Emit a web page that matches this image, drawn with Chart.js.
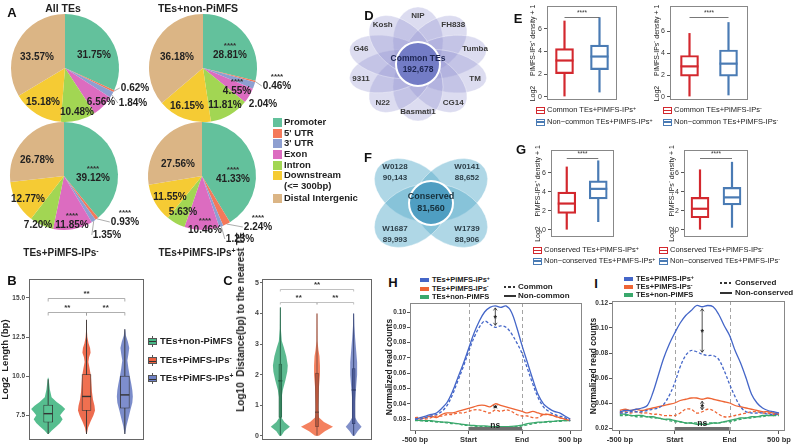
<!DOCTYPE html>
<html><head><meta charset="utf-8">
<script src="https://cdn.jsdelivr.net/npm/chart.js@4.4.1/dist/chart.umd.min.js"></script>
<style>
html,body{margin:0;padding:0;background:#fff;}
body{width:794px;height:445px;overflow:hidden;position:relative;font-family:"Liberation Sans",Arial,sans-serif;}
.t{position:absolute;white-space:nowrap;line-height:1;}
.t sup{font-size:70%;position:relative;top:-0.45em;vertical-align:baseline;}
canvas{position:absolute;}
.sq{position:absolute;}
</style></head><body>
<script>
// ================= DATA =================
const pieCategories = ['Promoter', "5' UTR", "3' UTR", 'Exon', 'Intron', 'Downstream (<= 300bp)', 'Distal Intergenic'];
const pieAllTEs   = [31.75, 0.62, 1.84, 6.56, 10.48, 15.18, 33.57];
const pieNonPiMFS = [28.81, 0.46, 2.04, 4.55, 11.81, 16.15, 36.18];
const pieIPsMinus = [39.12, 0.93, 1.35, 11.85, 7.20, 12.77, 26.78];
const pieIPsPlus  = [41.33, 2.24, 1.23, 10.46, 5.63, 11.55, 27.56];
const sigAllTEs   = ['', '', '', '', '', '', ''];
const sigNonPiMFS = ['****', '****', '', '****', '', '', ''];
const sigIPsMinus = ['****', '****', '', '****', '', '', ''];
const sigIPsPlus  = ['****', '****', '', '****', '', '', ''];

const groups3 = ['TEs+non-PiMFS', 'TEs+PiMFS-IPs-', 'TEs+PiMFS-IPs+'];
// B: log2 length, violin profiles (level, relative density) and box stats [min,q1,med,q3,max]
const lenNonLevels   = [6.3, 6.5, 6.8, 7.0, 7.25, 7.5, 7.7, 7.9, 8.1, 8.35, 8.65, 9.15, 9.9];
const lenNonDens     = [0.03, 0.2, 0.5, 0.7, 0.85, 0.7, 0.85, 1.0, 0.8, 0.5, 0.2, 0.1, 0.02];
const lenMinusLevels = [6.3, 6.7, 7.1, 7.5, 7.8, 8.1, 8.5, 9.0, 9.5, 10.0, 10.5, 10.9, 11.2, 11.5, 11.8, 12.1, 12.5, 13.0, 13.6];
const lenMinusDens   = [0.02, 0.09, 0.24, 0.41, 0.5, 0.47, 0.38, 0.32, 0.29, 0.26, 0.18, 0.11, 0.15, 0.24, 0.21, 0.12, 0.05, 0.02, 0.01];
const lenPlusLevels  = [6.3, 6.8, 7.3, 7.8, 8.3, 8.7, 9.1, 9.5, 10.0, 10.5, 11.0, 11.4, 11.8, 12.2, 12.6, 13.0];
const lenPlusDens    = [0.02, 0.09, 0.21, 0.32, 0.44, 0.47, 0.44, 0.38, 0.29, 0.21, 0.15, 0.21, 0.26, 0.18, 0.06, 0.02];
const lenStatsNon    = [6.3, 7.05, 7.6, 8.15, 9.8];
const lenStatsMinus  = [6.3, 7.8, 8.7, 10.1, 13.6];
const lenStatsPlus   = [6.3, 7.95, 8.8, 10.0, 13.0];
const lenTicks = [7.5, 10, 12.5, 15];
// C: log10 distance to nearest TE
const distNonLevels   = [0, 0.15, 0.3, 0.45, 0.6, 0.9, 1.2, 1.5, 1.8, 2.1, 2.3, 2.6, 2.9, 3.1, 3.5, 4.2];
const distNonDens     = [0.06, 0.24, 0.58, 0.24, 0.06, 0.05, 0.06, 0.15, 0.3, 0.42, 0.45, 0.36, 0.21, 0.09, 0.03, 0.02];
const distMinusLevels = [0, 0.15, 0.3, 0.45, 0.6, 0.8, 1.0, 1.3, 1.6, 2.0, 2.3, 2.6, 2.8, 3.1, 4.0];
const distMinusDens   = [0.12, 0.48, 0.97, 0.42, 0.12, 0.06, 0.06, 0.09, 0.12, 0.18, 0.18, 0.15, 0.09, 0.03, 0.02];
const distPlusLevels  = [0, 0.15, 0.3, 0.45, 0.6, 0.9, 1.2, 1.6, 2.0, 2.4, 2.8, 3.2, 3.6, 4.0];
const distPlusDens    = [0.06, 0.24, 0.48, 0.24, 0.09, 0.06, 0.09, 0.15, 0.21, 0.21, 0.15, 0.09, 0.04, 0.02];
const distStatsNon    = [0, 0.6, 1.8, 2.35, 4.2];
const distStatsMinus  = [0, 0.3, 0.77, 2.05, 4.0];
const distStatsPlus   = [0, 0.4, 1.5, 2.2, 4.0];
const distTicks = [0, 1, 2, 3, 4, 5];
// D / F Venn
const vennDSets = ['NIP', 'FH838', 'Tumba', 'TM', 'CG14', 'Basmati1', 'N22', '9311', 'G46', 'Kosh'];
const vennDCommon = 192678;
const vennFSets = ['W0128', 'W0141', 'W1739', 'W1687'];
const vennFCounts = [90143, 88652, 88906, 89993];
const vennFCommon = 81560;
// E / G box stats [min,q1,med,q3,max]
const densTicks = [0, 2, 4, 6];
const eCommonPlus      = [0.05, 2.05, 3.2, 4.25, 6.7];
const eNonCommonPlus   = [0.4, 2.4, 3.55, 4.55, 7.0];
const eCommonMinus     = [0.05, 1.9, 2.8, 3.8, 5.85];
const eNonCommonMinus  = [0.15, 1.9, 3.05, 4.3, 6.85];
const gConsPlus        = [0, 1.7, 2.75, 3.95, 6.65];
const gNonConsPlus     = [0.8, 3.25, 4.3, 5.15, 7.3];
const gConsMinus       = [0, 1.25, 2.2, 3.4, 6.35];
const gNonConsMinus    = [0.2, 2.6, 3.4, 4.45, 7.15];
// H / I profiles (bins from -500 bp to +500 bp)
const profileTickIdx = [0, 10, 20, 29];
const profileTickLabels = ['-500 bp', 'Start', 'End', '500 bp'];
const hYTicks = [0.03, 0.04, 0.05, 0.06, 0.07, 0.08, 0.09, 0.10];
const iYTicks = [0.02, 0.04, 0.06, 0.08, 0.10, 0.12];
const hPlusNonCommon  = [0.030,0.031,0.032,0.033,0.034,0.037,0.041,0.048,0.057,0.066,0.076,0.086,0.094,0.100,0.103,0.104,0.103,0.104,0.100,0.090,0.078,0.067,0.056,0.046,0.040,0.037,0.035,0.034,0.032,0.030];
const hPlusCommon     = [0.030,0.030,0.031,0.032,0.033,0.035,0.039,0.046,0.055,0.064,0.074,0.083,0.090,0.094,0.092,0.090,0.091,0.090,0.086,0.080,0.073,0.063,0.053,0.044,0.038,0.035,0.033,0.032,0.031,0.029];
const hMinusNonCommon = [0.031,0.030,0.031,0.032,0.031,0.033,0.034,0.034,0.035,0.036,0.037,0.038,0.039,0.039,0.038,0.040,0.039,0.038,0.037,0.036,0.035,0.034,0.035,0.034,0.033,0.033,0.032,0.031,0.030,0.029];
const hMinusCommon    = [0.031,0.031,0.030,0.031,0.032,0.032,0.033,0.033,0.034,0.034,0.035,0.036,0.036,0.035,0.034,0.036,0.035,0.036,0.035,0.033,0.032,0.032,0.031,0.031,0.033,0.033,0.032,0.031,0.030,0.030];
const hNonNonCommon   = [0.0295,0.029,0.029,0.029,0.0285,0.028,0.028,0.0275,0.027,0.0265,0.026,0.0258,0.0255,0.0255,0.0252,0.025,0.025,0.025,0.0252,0.0255,0.026,0.027,0.0275,0.028,0.028,0.0285,0.0285,0.029,0.029,0.029];
const hNonCommon      = [0.029,0.029,0.0285,0.0285,0.028,0.028,0.0275,0.027,0.027,0.026,0.0258,0.0255,0.025,0.025,0.025,0.0248,0.025,0.0248,0.025,0.025,0.0255,0.0262,0.027,0.0275,0.028,0.028,0.0285,0.0285,0.029,0.029];
const iPlusNonCons    = [0.033,0.034,0.034,0.035,0.036,0.038,0.048,0.062,0.076,0.087,0.096,0.104,0.110,0.114,0.118,0.117,0.118,0.117,0.111,0.102,0.094,0.082,0.072,0.060,0.047,0.040,0.036,0.034,0.033,0.032];
const iPlusCons       = [0.032,0.032,0.033,0.033,0.033,0.034,0.035,0.036,0.039,0.046,0.056,0.069,0.078,0.082,0.081,0.079,0.078,0.078,0.075,0.066,0.055,0.045,0.037,0.033,0.032,0.032,0.032,0.031,0.031,0.031];
const iMinusNonCons   = [0.034,0.035,0.034,0.035,0.034,0.035,0.036,0.037,0.038,0.039,0.040,0.042,0.043,0.044,0.044,0.043,0.044,0.043,0.042,0.041,0.040,0.038,0.037,0.036,0.035,0.034,0.033,0.033,0.032,0.031];
const iMinusCons      = [0.032,0.033,0.032,0.033,0.032,0.032,0.031,0.031,0.030,0.030,0.030,0.032,0.035,0.035,0.032,0.033,0.035,0.034,0.031,0.029,0.029,0.030,0.031,0.032,0.033,0.033,0.032,0.032,0.031,0.031];
const iNonNonCons     = [0.031,0.031,0.030,0.030,0.030,0.029,0.029,0.028,0.027,0.027,0.026,0.025,0.024,0.024,0.023,0.023,0.023,0.024,0.024,0.025,0.026,0.027,0.028,0.028,0.029,0.029,0.030,0.030,0.030,0.031];
const iNonCons        = [0.030,0.030,0.030,0.029,0.029,0.029,0.028,0.028,0.027,0.026,0.025,0.025,0.024,0.024,0.024,0.0235,0.024,0.024,0.024,0.025,0.025,0.026,0.027,0.028,0.028,0.029,0.029,0.030,0.030,0.030];

// ================= SETUP =================
const FONT = '"Liberation Sans", Arial, sans-serif';
Chart.defaults.font.family = FONT;
Chart.defaults.animation = false;
Chart.defaults.responsive = false;
Chart.defaults.events = [];
Chart.defaults.plugins.legend.display = false;
Chart.defaults.plugins.tooltip.enabled = false;

function canvasAt(x, y, w, h) {
  const c = document.createElement('canvas');
  c.width = w; c.height = h;
  c.style.left = x + 'px'; c.style.top = y + 'px';
  c.style.width = w + 'px'; c.style.height = h + 'px';
  document.body.appendChild(c);
  return c;
}
function text(x, y, html, o = {}) {
  const d = document.createElement('div');
  d.className = 't';
  d.innerHTML = html;
  d.style.left = x + 'px'; d.style.top = y + 'px';
  d.style.fontSize = (o.size || 9) + 'px';
  d.style.fontWeight = o.weight || 'bold';
  d.style.color = o.color || '#222';
  const ax = o.align === 'left' ? '0' : (o.align === 'right' ? '-100%' : '-50%');
  d.style.transform = 'translate(' + ax + ',-50%)' + (o.rot ? ' rotate(' + o.rot + 'deg)' : '');
  document.body.appendChild(d);
  return d;
}
function rect(x, y, w, h, css) {
  const d = document.createElement('div');
  d.className = 'sq';
  d.style.left = x + 'px'; d.style.top = y + 'px';
  d.style.width = w + 'px'; d.style.height = h + 'px';
  d.style.cssText += ';' + css;
  document.body.appendChild(d);
  return d;
}

// ================= PLUGINS =================
const framePlugin = {id: 'frame', afterDraw(chart, a, o) {
  if (!o || !o.color) return;
  const {left, top, right, bottom} = chart.chartArea, ctx = chart.ctx;
  ctx.save(); ctx.strokeStyle = o.color; ctx.lineWidth = o.width || 1;
  ctx.strokeRect(Math.round(left) + 0.5, Math.round(top) + 0.5, Math.round(right - left) - 1, Math.round(bottom - top) - 1);
  ctx.restore();
}};

const pieLabelPlugin = {id: 'pieLabels', afterDatasetsDraw(chart, a, o) {
  const ctx = chart.ctx, meta = chart.getDatasetMeta(0), vals = chart.data.datasets[0].data;
  ctx.save(); ctx.textAlign = 'center'; ctx.textBaseline = 'middle';
  meta.data.forEach((arc, i) => {
    const off = o.offs[i], lx = arc.x + off[0], ly = arc.y + off[1];
    const label = vals[i].toFixed(2) + '%';
    ctx.font = 'bold 10px ' + FONT;
    const tw = ctx.measureText(label).width;
    if (off[2]) {
      const mid = (arc.startAngle + arc.endAngle) / 2;
      ctx.strokeStyle = '#8a8a8a'; ctx.lineWidth = 0.7;
      ctx.beginPath();
      ctx.moveTo(arc.x + Math.cos(mid) * arc.outerRadius, arc.y + Math.sin(mid) * arc.outerRadius);
      ctx.lineTo(lx - tw / 2 - 1, ly);
      ctx.stroke();
    }
    ctx.fillStyle = '#222'; ctx.fillText(label, lx, ly);
    if (o.sig[i]) { ctx.font = 'bold 8px ' + FONT; ctx.fillStyle = '#333'; ctx.fillText(o.sig[i], lx, ly - 9); }
  });
  ctx.restore();
}};

const violinPlugin = {id: 'violin',
  beforeDatasetsDraw(chart, a, o) {
    const xs = chart.scales.x, ys = chart.scales.y, ctx = chart.ctx;
    const cw = xs.getPixelForValue(1) - xs.getPixelForValue(0);
    ctx.save();
    o.items.forEach((v, i) => {
      const cx = xs.getPixelForValue(i), hw = cw * o.maxHalf;
      ctx.beginPath();
      v.levels.forEach((lv, k) => { const px = cx + v.dens[k] * hw, py = ys.getPixelForValue(lv); if (k) ctx.lineTo(px, py); else ctx.moveTo(px, py); });
      for (let k = v.levels.length - 1; k >= 0; k--) ctx.lineTo(cx - v.dens[k] * hw, ys.getPixelForValue(v.levels[k]));
      ctx.closePath(); ctx.fillStyle = v.fill; ctx.fill();
      ctx.strokeStyle = v.line; ctx.lineWidth = o.whiskerWidth;
      ctx.beginPath(); ctx.moveTo(cx, ys.getPixelForValue(v.stats[0])); ctx.lineTo(cx, ys.getPixelForValue(v.stats[4])); ctx.stroke();
    });
    ctx.restore();
  },
  afterDatasetsDraw(chart, a, o) {
    const ys = chart.scales.y, ctx = chart.ctx, meta = chart.getDatasetMeta(0);
    ctx.save();
    o.items.forEach((v, i) => {
      const bar = meta.data[i], y = ys.getPixelForValue(v.stats[2]);
      ctx.strokeStyle = v.line; ctx.lineWidth = o.medianWidth;
      ctx.beginPath(); ctx.moveTo(bar.x - bar.width / 2 - o.medianExt, y); ctx.lineTo(bar.x + bar.width / 2 + o.medianExt, y); ctx.stroke();
    });
    ctx.restore();
  }
};

const boxWhiskerPlugin = {id: 'boxWhisker',
  beforeDatasetsDraw(chart, a, o) {
    const xs = chart.scales.x, ys = chart.scales.y, ctx = chart.ctx;
    ctx.save(); ctx.lineWidth = o.width;
    o.stats.forEach((s, i) => {
      const cx = xs.getPixelForValue(i);
      ctx.strokeStyle = o.colors[i];
      ctx.beginPath(); ctx.moveTo(cx, ys.getPixelForValue(s[0])); ctx.lineTo(cx, ys.getPixelForValue(s[4])); ctx.stroke();
    });
    ctx.restore();
  },
  afterDatasetsDraw(chart, a, o) {
    const ys = chart.scales.y, ctx = chart.ctx, meta = chart.getDatasetMeta(0);
    ctx.save(); ctx.lineWidth = o.width;
    o.stats.forEach((s, i) => {
      const bar = meta.data[i], y = ys.getPixelForValue(s[2]);
      ctx.strokeStyle = o.colors[i];
      ctx.beginPath(); ctx.moveTo(bar.x - bar.width / 2, y); ctx.lineTo(bar.x + bar.width / 2, y); ctx.stroke();
    });
    ctx.restore();
  }
};

const bracketPlugin = {id: 'brackets', afterDatasetsDraw(chart, a, o) {
  const xs = chart.scales.x, ys = chart.scales.y, ctx = chart.ctx;
  ctx.save(); ctx.strokeStyle = o.color; ctx.fillStyle = o.textColor || '#333'; ctx.lineWidth = o.width || 0.8;
  ctx.font = (o.fontWeight || 'bold') + ' ' + (o.fontSize || 8) + 'px ' + FONT;
  ctx.textAlign = 'center'; ctx.textBaseline = 'bottom';
  o.items.forEach(b => {
    const x1 = xs.getPixelForValue(b.from), x2 = xs.getPixelForValue(b.to);
    const y = Math.round(ys.getPixelForValue(b.y)) + 0.5, dr = o.drop || 0;
    ctx.beginPath(); ctx.moveTo(x1, y + dr); ctx.lineTo(x1, y); ctx.lineTo(x2, y); ctx.lineTo(x2, y + dr); ctx.stroke();
    ctx.fillText(b.label, (x1 + x2) / 2, y - (o.gap || 1));
  });
  ctx.restore();
}};

const vennPlugin = {id: 'venn',
  beforeDatasetsDraw(chart, a, o) {
    const xs = chart.scales.x, ys = chart.scales.y, ctx = chart.ctx;
    const ox = xs.getPixelForValue(0), oy = ys.getPixelForValue(0);
    const ux = xs.getPixelForValue(1) - ox, uy = ys.getPixelForValue(1) - oy;
    o.shapes.forEach(s => {
      ctx.save();
      ctx.translate(ox, oy); ctx.scale(ux, uy); ctx.translate(s.x, s.y); ctx.rotate(s.rot);
      ctx.beginPath(); ctx.ellipse(0, 0, s.rx, s.ry, 0, 0, Math.PI * 2);
      ctx.restore();
      ctx.fillStyle = o.fill; ctx.fill();
      ctx.strokeStyle = o.stroke; ctx.lineWidth = 0.8; ctx.stroke();
    });
  },
  afterDatasetsDraw(chart, a, o) {
    const xs = chart.scales.x, ys = chart.scales.y, ctx = chart.ctx;
    ctx.save(); ctx.textAlign = 'center'; ctx.textBaseline = 'middle';
    o.labels.forEach(l => {
      ctx.font = 'bold ' + l.size + 'px ' + FONT; ctx.fillStyle = l.color;
      ctx.fillText(l.text, xs.getPixelForValue(l.x), ys.getPixelForValue(l.y));
    });
    ctx.restore();
  }
};

const profileAnnoPlugin = {id: 'profileAnno',
  beforeDatasetsDraw(chart, a, o) {
    const xs = chart.scales.x, ctx = chart.ctx, {top, bottom} = chart.chartArea;
    ctx.save(); ctx.strokeStyle = '#9a9a9a'; ctx.lineWidth = 0.9; ctx.setLineDash([4, 3]);
    o.vlines.forEach(v => { const x = Math.round(xs.getPixelForValue(v)) + 0.5; ctx.beginPath(); ctx.moveTo(x, top); ctx.lineTo(x, bottom); ctx.stroke(); });
    ctx.restore();
  },
  afterDatasetsDraw(chart, a, o) {
    const xs = chart.scales.x, ys = chart.scales.y, ctx = chart.ctx, {bottom} = chart.chartArea;
    const ds = chart.data.datasets;
    ctx.save();
    const x1 = xs.getPixelForValue(o.bar[0]), x2 = xs.getPixelForValue(o.bar[1]);
    ctx.fillStyle = '#6e6e6e'; ctx.fillRect(x1, bottom - 4, x2 - x1, 3);
    ctx.strokeStyle = '#222'; ctx.fillStyle = '#222'; ctx.lineWidth = 0.8;
    ctx.textAlign = 'center'; ctx.textBaseline = 'middle';
    o.arrows.forEach(ar => {
      const x = xs.getPixelForValue(ar.idx);
      const ya = ys.getPixelForValue(ds[ar.a].data[ar.idx].y) + 2, yb = ys.getPixelForValue(ds[ar.b].data[ar.idx].y) - 2;
      ctx.beginPath(); ctx.moveTo(x, ya); ctx.lineTo(x, yb); ctx.stroke();
      const h = 2.5;
      ctx.beginPath(); ctx.moveTo(x - 1.8, ya + h); ctx.lineTo(x, ya); ctx.lineTo(x + 1.8, ya + h); ctx.stroke();
      ctx.beginPath(); ctx.moveTo(x - 1.8, yb - h); ctx.lineTo(x, yb); ctx.lineTo(x + 1.8, yb - h); ctx.stroke();
      ctx.font = 'bold 9px ' + FONT;
      ctx.fillText(ar.label, x, (ya + yb) / 2 + 2);
    });
    const n = o.ns;
    ctx.font = 'bold 8.5px ' + FONT;
    ctx.fillText(n.label, xs.getPixelForValue(n.idx), ys.getPixelForValue(ds[n.ds].data[n.idx].y) - 1);
    ctx.restore();
  }
};

// ================= PANEL A: pies =================
const pieColors = ['#63c19c', '#f4795a', '#8e9fd0', '#dc6cc0', '#a2d653', '#f5cb34', '#dbb585'];
const pieSets = [
  {values: pieAllTEs, sig: sigAllTEs},
  {values: pieNonPiMFS, sig: sigNonPiMFS},
  {values: pieIPsMinus, sig: sigIPsMinus},
  {values: pieIPsPlus, sig: sigIPsPlus}
];
const pieLayout = [
  {cx: 65, cy: 68, offs: [[29,-13],[70,20,1],[68,35,1],[36,34],[12,44],[-22,34],[-28,-11]]},
  {cx: 203, cy: 68, offs: [[27,-13],[74,18,1],[60,36],[34,23],[22,37],[-16,38],[-26,-11]]},
  {cx: 64, cy: 176, offs: [[29,2],[61,46,1],[43,59,1],[8,49],[-26,49],[-36,23],[-27,-16]]},
  {cx: 202, cy: 176, offs: [[31,3],[56,51,1],[38,63,1],[3,54],[-19,36],[-32,21],[-24,-12]]}
];
pieSets.forEach((p, k) => {
  const L = pieLayout[k];
  const c = canvasAt(L.cx - 62, L.cy - 62, 160, 140);
  new Chart(c, {
    type: 'pie',
    data: {labels: pieCategories, datasets: [{data: p.values, backgroundColor: pieColors, borderWidth: 0, hoverOffset: 0, offset: 0}]},
    options: {devicePixelRatio: 1, layout: {padding: {left: 8, top: 8, right: 44, bottom: 24}},
      plugins: {pieLabels: {offs: L.offs, sig: p.sig}}},
    plugins: [pieLabelPlugin]
  });
});

// ================= PANEL B: violin length =================
(function () {
  const c = canvasAt(0, 273, 147, 172);
  const items = [
    {levels: lenNonLevels, dens: lenNonDens, stats: lenStatsNon, fill: 'rgba(72,184,134,0.92)', line: '#333'},
    {levels: lenMinusLevels, dens: lenMinusDens, stats: lenStatsMinus, fill: 'rgba(236,96,64,0.92)', line: '#333'},
    {levels: lenPlusLevels, dens: lenPlusDens, stats: lenStatsPlus, fill: 'rgba(112,130,197,0.92)', line: '#333'}
  ];
  new Chart(c, {
    type: 'bar',
    data: {labels: groups3, datasets: [{data: items.map(v => [v.stats[1], v.stats[3]]),
      backgroundColor: ['rgba(90,196,148,1)', 'rgba(240,112,80,1)', 'rgba(126,142,205,1)'],
      borderColor: '#333', borderWidth: 0.8, borderSkipped: false, barThickness: 9}]},
    options: {devicePixelRatio: 1, layout: {padding: {top: 6, right: 3, bottom: 4, left: 0}},
      scales: {
        x: {display: false},
        y: {min: 5.91, max: 16.21, afterBuildTicks: s => { s.ticks = lenTicks.map(v => ({value: v})); },
          ticks: {font: {size: 6.5, weight: 'bold'}, color: '#444', padding: 1, callback: v => Number(v).toFixed(1)},
          grid: {drawOnChartArea: false, tickLength: 3, color: '#666'}, border: {display: false},
          title: {display: true, text: 'Log2  Length (bp)', font: {size: 9.5, weight: 'bold'}, color: '#222', padding: {top: 0, bottom: 0}},
          afterFit: s => { s.width = 29; }}
      },
      plugins: {frame: {color: '#666'}, violin: {items, maxHalf: 0.444, whiskerWidth: 0.9, medianWidth: 1.4, medianExt: 0},
        brackets: {items: [{from: 0, to: 2, y: 15.0, label: '**'}, {from: 0, to: 1, y: 14.1, label: '**'}, {from: 1, to: 2, y: 14.1, label: '**'}],
          color: '#9a9a9a', drop: 3, gap: 1, fontSize: 8}}},
    plugins: [framePlugin, violinPlugin, bracketPlugin]
  });
})();

// ================= PANEL C: violin distance =================
(function () {
  const c = canvasAt(236, 273, 138, 172);
  const items = [
    {levels: distNonLevels, dens: distNonDens, stats: distStatsNon, fill: 'rgba(63,174,124,0.85)', line: '#245f45'},
    {levels: distMinusLevels, dens: distMinusDens, stats: distStatsMinus, fill: 'rgba(242,107,67,0.85)', line: '#7a4a3e'},
    {levels: distPlusLevels, dens: distPlusDens, stats: distStatsPlus, fill: 'rgba(107,125,192,0.85)', line: '#33406e'}
  ];
  new Chart(c, {
    type: 'bar',
    data: {labels: groups3, datasets: [{data: items.map(v => [v.stats[1], v.stats[3]]),
      backgroundColor: ['rgba(60,140,100,0.7)', 'rgba(200,90,60,0.7)', 'rgba(80,95,160,0.7)'],
      borderColor: ['#245f45', '#6a3e33', '#33406e'], borderWidth: 0.6, borderSkipped: false, barThickness: 3}]},
    options: {devicePixelRatio: 1, layout: {padding: {top: 6, right: 2, bottom: 4, left: 0}},
      scales: {
        x: {display: false},
        y: {min: -0.13, max: 5.13, afterBuildTicks: s => { s.ticks = distTicks.map(v => ({value: v})); },
          ticks: {font: {size: 7, weight: 'bold'}, color: '#444', padding: 1},
          grid: {drawOnChartArea: false, tickLength: 2, color: '#666'}, border: {display: false},
          afterFit: s => { s.width = 26; }}
      },
      plugins: {frame: {color: '#666'}, violin: {items, maxHalf: 0.45, whiskerWidth: 0.9, medianWidth: 1.6, medianExt: 0.5},
        brackets: {items: [{from: 0, to: 2, y: 4.8, label: '**'}, {from: 0, to: 1, y: 4.38, label: '**'}, {from: 1, to: 2, y: 4.38, label: '**'}],
          color: '#b0b0b0', drop: 2, gap: 1, fontSize: 8}}},
    plugins: [framePlugin, violinPlugin, bracketPlugin]
  });
})();

// ================= PANEL D: flower Venn =================
(function () {
  const c = canvasAt(335, 0, 166, 132);
  const n = vennDSets.length;
  const shapes = vennDSets.map((s, i) => { const th = i * 2 * Math.PI / n; return {x: 23 * Math.sin(th), y: -23 * Math.cos(th), rot: th - Math.PI / 2, rx: 34, ry: 20}; });
  const labels = vennDSets.map((s, i) => { const th = i * 2 * Math.PI / n; return {text: s, x: 48 * Math.sin(th), y: -48 * Math.cos(th), size: 8, color: '#3a3a3a'}; });
  labels.push({text: 'Common TEs', x: 0, y: -5, size: 8.5, color: '#1d2552'});
  labels.push({text: vennDCommon.toLocaleString('en-US'), x: 0, y: 6, size: 8.5, color: '#1d2552'});
  new Chart(c, {
    type: 'bubble',
    data: {datasets: [{data: [{x: 0, y: 0, r: 22}], backgroundColor: '#737cc6', borderColor: '#ffffff', borderWidth: 2}]},
    options: {devicePixelRatio: 1, layout: {padding: 0, autoPadding: false},
      scales: {x: {display: false, min: -66.4, max: 66.4}, y: {display: false, reverse: true, min: -64, max: 68}},
      plugins: {venn: {shapes, labels, fill: 'rgba(140,140,205,0.3)', stroke: 'rgba(255,255,255,0.45)'}}},
    plugins: [vennPlugin]
  });
})();

// ================= PANEL F: 4-set Venn =================
(function () {
  const c = canvasAt(358, 150, 146, 100);
  const quad = [[-1, -1], [1, -1], [1, 1], [-1, 1]];
  const shapes = quad.map(([sx, sy]) => ({x: sx * 20, y: sy * 13, rot: Math.atan2(sy * 13, sx * 20), rx: 40, ry: 27}));
  const labels = [];
  vennFSets.forEach((s, i) => {
    const [sx, sy] = quad[i];
    labels.push({text: s, x: sx * 36, y: sy * 31 - 5, size: 8, color: '#2c3e48'});
    labels.push({text: vennFCounts[i].toLocaleString('en-US'), x: sx * 36, y: sy * 31 + 6, size: 8, color: '#2c3e48'});
  });
  labels.push({text: 'Conserved', x: 0, y: -6, size: 9, color: '#17303c'});
  labels.push({text: vennFCommon.toLocaleString('en-US'), x: 0, y: 6, size: 9, color: '#17303c'});
  new Chart(c, {
    type: 'bubble',
    data: {datasets: [{data: [{x: 0, y: 0, r: 22}], backgroundColor: '#4f9ec2', borderColor: '#ffffff', borderWidth: 2}]},
    options: {devicePixelRatio: 1, layout: {padding: 0, autoPadding: false},
      scales: {x: {display: false, min: -73, max: 73}, y: {display: false, reverse: true, min: -53, max: 47}},
      plugins: {venn: {shapes, labels, fill: 'rgba(95,175,205,0.5)', stroke: 'rgba(255,255,255,0.5)'}}},
    plugins: [vennPlugin]
  });
})();

// ================= PANELS E / G: boxplots =================
const RED = '#d3282e', BLUE = '#4a7bb4';
function boxChart(pos, pad, axisW, stats, cats, yMin, yMax, title, brY) {
  const c = canvasAt(pos[0], pos[1], pos[2], pos[3]);
  new Chart(c, {
    type: 'bar',
    data: {labels: cats, datasets: [{data: stats.map(s => [s[1], s[3]]), backgroundColor: '#ffffff',
      borderColor: [RED, BLUE], borderWidth: 2.2, borderSkipped: false, barThickness: 18}]},
    options: {devicePixelRatio: 1, layout: {padding: pad},
      scales: {
        x: {display: false},
        y: {min: yMin, max: yMax, afterBuildTicks: s => { s.ticks = densTicks.map(v => ({value: v})); },
          ticks: {font: {size: 7}, color: '#333', padding: 2},
          grid: {drawOnChartArea: false, tickLength: 3, color: '#555'}, border: {display: false},
          title: {display: true, text: title, font: {size: 7}, color: '#222', padding: {top: 0, bottom: 0}},
          afterFit: s => { s.width = axisW; }}
      },
      plugins: {frame: {color: '#888'}, boxWhisker: {stats, colors: [RED, BLUE], width: 2.2},
        brackets: {items: [{from: 0, to: 1, y: brY, label: '****'}], color: '#555', drop: 0, gap: 0, fontSize: 6.5, fontWeight: 'normal'}}},
    plugins: [framePlugin, boxWhiskerPlugin, bracketPlugin]
  });
}
boxChart([529, 0, 91, 106], {top: 3, right: 3, bottom: 3, left: 0}, 18, [eCommonPlus, eNonCommonPlus],
  ['Common TEs+PiMFS-IPs+', 'Non-common TEs+PiMFS-IPs+'], -0.25, 7.97, 'Log2     PiMFS-IPs\u207A density + 1', 7.0);
boxChart([653, 0, 98, 106], {top: 3, right: 3, bottom: 3, left: 0}, 17, [eCommonMinus, eNonCommonMinus],
  ['Common TEs+PiMFS-IPs-', 'Non-common TEs+PiMFS-IPs-'], -0.26, 8.31, 'Log2     PiMFS-IPs\u207B density + 1', 7.28);
boxChart([534, 144, 83, 99], {top: 3, right: 3, bottom: 0, left: 0}, 17, [gConsPlus, gNonConsPlus],
  ['Conserved TEs+PiMFS-IPs+', 'Non-conserved TEs+PiMFS-IPs+'], -0.76, 8.38, 'Log2     PiMFS-IPs\u207A density + 1', 7.6);
boxChart([668, 144, 83, 99], {top: 3, right: 3, bottom: 0, left: 0}, 16, [gConsMinus, gNonConsMinus],
  ['Conserved TEs+PiMFS-IPs-', 'Non-conserved TEs+PiMFS-IPs-'], -0.76, 8.38, 'Log2     PiMFS-IPs\u207B density + 1', 7.6);

// ================= PANELS H / I: profiles =================
const PBLUE = '#4466c8', PORANGE = '#ee6535', PGREEN = '#3aa86c';
function line(arr, color, dashed) {
  return {data: arr.map((v, i) => ({x: i, y: v})), borderColor: color, borderWidth: 1.3, borderDash: dashed ? [3, 2] : [],
    pointRadius: 0, tension: 0.35, fill: false};
}
function profileChart(pos, axisW, datasets, yMin, yMax, yTicks, xMin, xMax, anno) {
  const c = canvasAt(pos[0], pos[1], pos[2], pos[3]);
  new Chart(c, {
    type: 'line',
    data: {datasets},
    options: {devicePixelRatio: 1, layout: {padding: {top: 5, right: 4, bottom: 0, left: 0}},
      scales: {
        x: {type: 'linear', min: xMin, max: xMax, afterBuildTicks: s => { s.ticks = profileTickIdx.map(v => ({value: v})); },
          ticks: {autoSkip: false, maxRotation: 0, font: {size: 7.5, weight: 'bold'}, color: '#333', padding: 1,
            callback: v => profileTickLabels[profileTickIdx.indexOf(v)]},
          grid: {drawOnChartArea: false, tickLength: 3, color: '#555'}, border: {display: false},
          afterFit: s => { s.height = 14; }},
        y: {min: yMin, max: yMax, afterBuildTicks: s => { s.ticks = yTicks.map(v => ({value: v})); },
          ticks: {font: {size: 6.5, weight: 'bold'}, color: '#333', padding: 1, callback: v => Number(v).toFixed(2)},
          grid: {drawOnChartArea: false, tickLength: 3, color: '#555'}, border: {display: false},
          title: {display: true, text: 'Normalized read counts', font: {size: 8.5, weight: 'bold'}, color: '#222', padding: {top: 0, bottom: 0}},
          afterFit: s => { s.width = axisW; }}
      },
      plugins: {frame: {color: '#888'}, profileAnno: anno}},
    plugins: [framePlugin, profileAnnoPlugin]
  });
}
const annoCfg = {vlines: [10, 20], bar: [10, 20], arrows: [{a: 0, b: 1, idx: 15, label: '*'}, {a: 2, b: 3, idx: 15, label: '*'}], ns: {ds: 4, idx: 15, label: 'ns'}};
profileChart([385, 298, 201, 147], 25, [
  line(hPlusNonCommon, PBLUE, false), line(hPlusCommon, PBLUE, true),
  line(hMinusNonCommon, PORANGE, false), line(hMinusCommon, PORANGE, true),
  line(hNonNonCommon, PGREEN, false), line(hNonCommon, PGREEN, true)
], 0.0222, 0.1059, hYTicks, -0.94, 31.2, annoCfg);
profileChart([589, 296, 203, 149], 23, [
  line(iPlusNonCons, PBLUE, false), line(iPlusCons, PBLUE, true),
  line(iMinusNonCons, PORANGE, false), line(iMinusCons, PORANGE, true),
  line(iNonNonCons, PGREEN, false), line(iNonCons, PGREEN, true)
], 0.0176, 0.1216, iYTicks, -1.43, 30.07, annoCfg);

// ================= TEXT / LEGENDS =================
[['A', 12, 12], ['B', 12, 280], ['C', 228, 280], ['D', 369, 15], ['E', 518, 18], ['F', 368, 157], ['G', 521, 149], ['H', 393, 282], ['I', 596, 283]]
  .forEach(([l, x, y]) => text(x, y, l, {size: 13, color: '#111'}));

text(63, 8, 'All TEs', {size: 10.5});
text(198, 8, 'TEs+non-PiMFS', {size: 10.5});
text(61, 253, 'TEs+PiMFS-IPs<sup>-</sup>', {size: 10});
text(197, 253, 'TEs+PiMFS-IPs<sup>+</sup>', {size: 10});

// A legend
const pieLegendLines = [['Promoter'], ["5' UTR"], ["3' UTR"], ['Exon'], ['Intron'], ['Downstream', '(<= 300bp)'], ['Distal Intergenic']];
const pieLegendY = [122, 133, 143, 154, 165, 175, 198];
pieLegendLines.forEach((lines, i) => {
  rect(273, pieLegendY[i] - 4.5, 9, 9, 'background:' + pieColors[i]);
  lines.forEach((ln, j) => text(284, pieLegendY[i] + j * 10.5, ln.replace(/</g, '&lt;'), {size: 9.5, align: 'left'}));
});

// B legend
const bLegColors = ['#48b886', '#ec6040', '#7082c5'];
const bLegText = ['TEs+non-PiMFS', 'TEs+PiMFS-IPs<sup>-</sup>', 'TEs+PiMFS-IPs<sup>+</sup>'];
[341, 360, 378].forEach((y, i) => {
  rect(152, y - 5.5, 1, 11, 'background:#555');
  rect(148, y - 3.5, 9, 7, 'box-sizing:border-box;border:1px solid #555;background:linear-gradient(to bottom,' + bLegColors[i] + ' 0,' + bLegColors[i] + ' 2.5px,#333 2.5px,#333 3.5px,' + bLegColors[i] + ' 3.5px)');
  text(160, y, bLegText[i], {size: 9.5, align: 'left'});
});

// C axis title (extends above plot like reference)
text(241, 322, 'Log10&nbsp; Distance(bp) to the nearest TE', {size: 10, rot: -90});

// E / G legends
function boxIcon(x, y, col) {
  rect(x, y - 3.5, 9, 7, 'box-sizing:border-box;border:1.5px solid ' + col + ';background:linear-gradient(to bottom,#fff 0,#fff 1.5px,' + col + ' 1.5px,' + col + ' 2.7px,#fff 2.7px)');
}
const legE = [
  [536, 110, RED, 'Common TEs+PiMFS-IPs<sup>+</sup>'], [536, 122, BLUE, 'Non\u2212common TEs+PiMFS-IPs<sup>+</sup>'],
  [663, 110, RED, 'Common TEs+PiMFS-IPs<sup>-</sup>'], [663, 122, BLUE, 'Non\u2212common TEs+PiMFS-IPs<sup>-</sup>'],
  [533, 250, RED, 'Conserved TEs+PiMFS-IPs<sup>+</sup>'], [533, 261, BLUE, 'Non\u2212conserved TEs+PiMFS-IPs<sup>+</sup>'],
  [659, 250, RED, 'Conserved TEs+PiMFS-IPs<sup>-</sup>'], [659, 261, BLUE, 'Non\u2212conserved TEs+PiMFS-IPs<sup>-</sup>']
];
legE.forEach(([x, y, col, t]) => { boxIcon(x, y, col); text(x + 11, y, t, {size: 7.5, weight: 'normal', align: 'left', color: '#222'}); });

// H / I legends
const profLeg = [[PBLUE, 'TEs+PiMFS-IPs<sup>+</sup>'], [PORANGE, 'TEs+PiMFS-IPs<sup>-</sup>'], [PGREEN, 'TEs+non-PiMFS']];
profLeg.forEach(([col, t], i) => {
  rect(420, 278 + i * 8.5, 9, 4, 'background:' + col);
  text(432, 280 + i * 8.5, t, {size: 7.5, align: 'left'});
  rect(624, 277 + i * 8, 9, 4, 'background:' + col);
  text(636, 279 + i * 8, t, {size: 7.5, align: 'left'});
});
function dashSample(x, y, dashed) {
  rect(x, y - 0.75, 12, 1.5, dashed ? 'background:repeating-linear-gradient(to right,#333 0,#333 2.5px,transparent 2.5px,transparent 4.5px)' : 'background:#333');
}
dashSample(504, 287, true); text(518, 287, 'Common', {size: 8, align: 'left'});
dashSample(504, 296, false); text(518, 296, 'Non-common', {size: 8, align: 'left'});
dashSample(720, 283, true); text(735, 283, 'Conserved', {size: 8, align: 'left'});
dashSample(720, 293, false); text(735, 293, 'Non-conserved', {size: 8, align: 'left'});
</script>
</body></html>
